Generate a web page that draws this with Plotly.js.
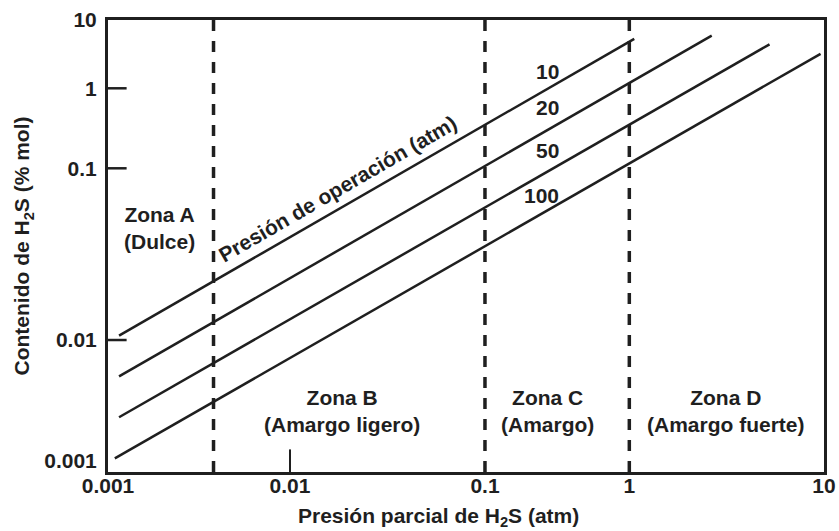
<!DOCTYPE html>
<html>
<head>
<meta charset="utf-8">
<script src="https://cdn.plot.ly/plotly-3.0.1.min.js"></script>
<style>
  html, body { margin: 0; padding: 0; background: #fff; }
  #chart { width: 839px; height: 531px; }
</style>
</head>
<body>
<div id="chart"></div>
<script>
// ---------------- DATA ----------------
// Axis decades (values) and their printed labels
const xTickValues = [0.001, 0.01, 0.1, 1, 10];
const xTickLabels = ['0.001', '0.01', '0.1', '1', '10'];
const yTickValues = [0.001, 0.01, 0.1, 1, 10];
const yTickLabels = ['0.001', '0.01', '0.1', '1', '10'];

// Operating-pressure lines (atm): endpoints
const pressureLabels = ['10', '20', '50', '100'];
const lineXStart = [0.00115, 0.00115, 0.00115, 0.00109];   // H2S partial pressure, atm
const lineXEnd   = [1.06, 2.65, 5.25, 9.6];
const lineYStart = [0.0106, 0.0050, 0.0023, 0.00105];      // H2S content, % mol
const lineYEnd   = [5.3, 5.9, 4.4, 3.2];

// Zone boundaries (H2S partial pressure, atm)
const zoneBoundaries = [0.0038, 0.1, 1];
const zoneNames = ['Zona A<br>(Dulce)', 'Zona B<br>(Amargo ligero)', 'Zona C<br>(Amargo)', 'Zona D<br>(Amargo fuerte)'];

// ---------------- SCALE ----------------
// The printed chart spaces its decades unevenly; these fractions of the
// axis length reproduce where each decade sits on the original figure.
const xDecadeFrac = [0, 0.2542, 0.5265, 0.7281, 1];
const yDecadeFrac = [0.0243, 0.2920, 0.6719, 0.8489, 1];

function makeScale(ticks, fracs) {
  const logs = ticks.map(Math.log10);
  return function (v) {
    const lv = Math.log10(v);
    let i = 0;
    while (i < logs.length - 2 && lv > logs[i + 1]) i++;
    const t = (lv - logs[i]) / (logs[i + 1] - logs[i]);
    return fracs[i] + t * (fracs[i + 1] - fracs[i]);
  };
}
const sx = makeScale(xTickValues, xDecadeFrac);
const sy = makeScale(yTickValues, yDecadeFrac);

// ---------------- STYLE ----------------
const INK = '#1f1f1f';
const FONT = { family: 'Liberation Sans, Arial, sans-serif', size: 21, color: INK, weight: 'bold' };

const traces = pressureLabels.map((p, i) => ({
  type: 'scatter',
  mode: 'lines',
  name: p + ' atm',
  x: [sx(lineXStart[i]), sx(lineXEnd[i])],
  y: [sy(lineYStart[i]), sy(lineYEnd[i])],
  line: { color: INK, width: 2.5 },
  hoverinfo: 'skip',
  showlegend: false
}));

const shapes = [];
// zone boundaries (dashed)
zoneBoundaries.forEach(b => {
  shapes.push({
    type: 'line', xref: 'x', yref: 'paper',
    x0: sx(b), x1: sx(b), y0: 1, y1: -0.008,
    line: { color: INK, width: 3.5, dash: '11px,10px' }
  });
});
// inside tick marks (only where the original shows them)
[0.01, 0.1, 1].forEach(v => {
  shapes.push({
    type: 'line', xref: 'paper', yref: 'y',
    x0: 0, x1: 0.026, y0: sy(v), y1: sy(v),
    line: { color: INK, width: 2.5 }
  });
});
shapes.push({
  type: 'line', xref: 'x', yref: 'paper',
  x0: sx(0.01), x1: sx(0.01), y0: 0, y1: 0.05,
  line: { color: INK, width: 2 }
});

const annotations = [];
// zone labels
const zoneLabelX = [0.0726, 0.3268, 0.6145, 0.8631];
const zoneLabelY = [0.540, 0.136, 0.136, 0.136];
zoneNames.forEach((z, i) => {
  annotations.push({
    xref: 'paper', yref: 'paper', x: zoneLabelX[i], y: zoneLabelY[i],
    text: z, showarrow: false, font: FONT, xanchor: 'center', yanchor: 'middle'
  });
});
// pressure labels
const pLabelX = [0.6145, 0.6145, 0.6145, 0.6061];
const pLabelY = [0.887, 0.8073, 0.7122, 0.6126];
pressureLabels.forEach((p, i) => {
  annotations.push({
    xref: 'paper', yref: 'paper', x: pLabelX[i], y: pLabelY[i],
    text: p, showarrow: false, font: FONT, xanchor: 'center', yanchor: 'middle'
  });
});
annotations.push({
  xref: 'paper', yref: 'paper', x: 0.3212, y: 0.628,
  text: 'Presión de operación (atm)', textangle: -30,
  showarrow: false, font: FONT, xanchor: 'center', yanchor: 'middle'
});
// x-axis title (placed where the original prints it)
annotations.push({
  xref: 'paper', yref: 'paper', x: 0.4609, y: -0.1,
  text: 'Presión parcial de H<sub>2</sub>S (atm)',
  showarrow: false, font: FONT, xanchor: 'center', yanchor: 'middle'
});

const layout = {
  width: 839, height: 531,
  margin: { l: 108, r: 15, t: 20, b: 59 },
  paper_bgcolor: '#ffffff', plot_bgcolor: '#ffffff',
  font: FONT,
  showlegend: false,
  xaxis: {
    type: 'linear', range: [0, 1], fixedrange: true,
    tickmode: 'array', tickvals: xTickValues.map(sx), ticktext: xTickLabels,
    ticks: '', showgrid: false, zeroline: false,
    showline: true, mirror: true, linecolor: INK, linewidth: 3,
    tickfont: FONT, ticklabelstandoff: -7
  },
  yaxis: {
    type: 'linear', range: [0, 1], fixedrange: true,
    tickmode: 'array', tickvals: yTickValues.map(sy), ticktext: yTickLabels,
    ticks: '', showgrid: false, zeroline: false,
    showline: true, mirror: true, linecolor: INK, linewidth: 3,
    tickfont: FONT, ticklabelstandoff: 4,
    title: { text: 'Contenido de H<sub>2</sub>S (% mol)', font: FONT, standoff: 9 },
    automargin: false
  },
  shapes: shapes,
  annotations: annotations
};

Plotly.newPlot('chart', traces, layout, { staticPlot: true, displayModeBar: false });
</script>
</body>
</html>
